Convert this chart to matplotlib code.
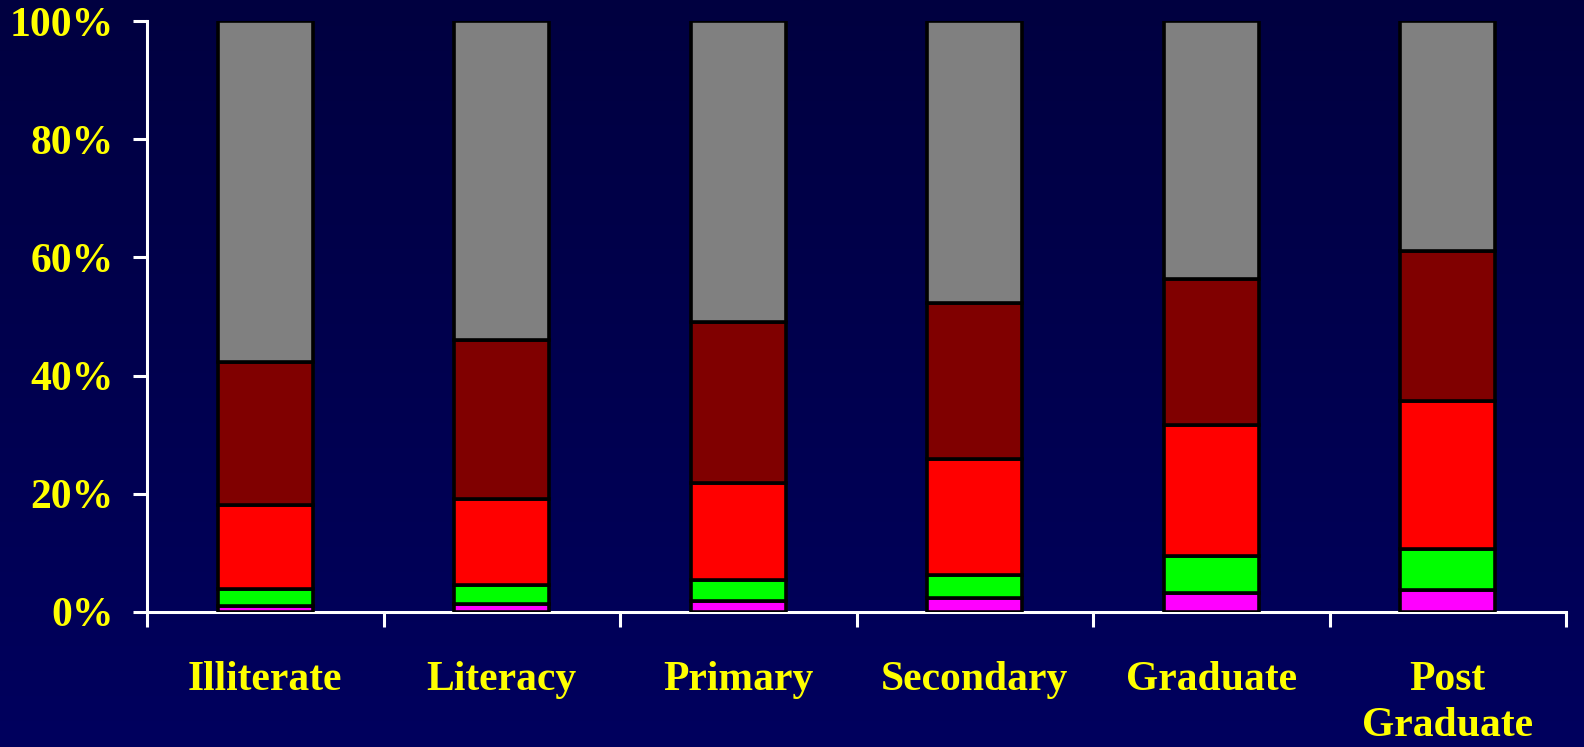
import numpy as np
import matplotlib.pyplot as plt
from matplotlib.colors import LinearSegmentedColormap

categories = ['Illiterate', 'Literacy', 'Primary', 'Secondary', 'Graduate', 'Post\nGraduate']
# segment heights (%), stacked bottom to top
magenta = [1.0, 1.35, 1.9, 2.4, 3.2, 3.7]
green = [2.9, 3.25, 3.5, 3.9, 6.3, 7.0]
red = [14.2, 14.5, 16.4, 19.6, 22.1, 25.0]
darkred = [24.2, 26.9, 27.2, 26.4, 24.7, 25.4]
gray = [100 - (a + b + c + d) for a, b, c, d in zip(magenta, green, red, darkred)]

series = [magenta, green, red, darkred, gray]
colors = ['#ff00ff', '#00ff00', '#ff0000', '#800000', '#808080']

plt.rcParams['font.family'] = ['Liberation Serif', 'DejaVu Serif']
fig = plt.figure(figsize=(15.84, 7.47), dpi=100)

# background gradient
bg = fig.add_axes([0, 0, 1, 1], zorder=-10)
cmap = LinearSegmentedColormap.from_list('bg', ['#000040', '#00005e'])
bg.imshow(np.linspace(0, 1, 256).reshape(-1, 1), aspect='auto', cmap=cmap, extent=[0, 1, 0, 1])
bg.axis('off')

ax = fig.add_axes([147 / 1584, 1 - 612 / 747, (1566 - 147) / 1584, (612 - 21) / 747])
ax.patch.set_alpha(0)

x = np.arange(len(categories))
bottom = np.zeros(len(categories))
for vals, c in zip(series, colors):
    ax.bar(x, vals, 0.4, bottom=bottom, color=c, edgecolor='black', linewidth=2.6, zorder=3)
    bottom += np.array(vals)

ax.set_xlim(-0.5, len(categories) - 0.5)
ax.set_ylim(0, 100)

for s in ['top', 'right']:
    ax.spines[s].set_visible(False)
for s in ['left', 'bottom']:
    ax.spines[s].set_color('white')
    ax.spines[s].set_linewidth(2.2)

ax.set_yticks([0, 20, 40, 60, 80, 100])
ax.set_yticklabels(['0%', '20%', '40%', '60%', '80%', '100%'])
ax.tick_params(axis='y', colors='white', length=10, width=2.2, pad=14,
               labelcolor='yellow', labelsize=30)
for t in ax.get_yticklabels():
    t.set_fontweight('bold')

ax.set_xticks(np.arange(-0.5, len(categories)), [''] * (len(categories) + 1))
ax.tick_params(axis='x', which='major', colors='white', length=11, width=2.2)
ax.set_xticks(x, categories, minor=True)
ax.tick_params(axis='x', which='minor', length=0, pad=35, labelcolor='yellow', labelsize=30)
for t in ax.get_xticklabels(minor=True):
    t.set_fontweight('bold')
    t.set_linespacing(1.3)
    t.set_verticalalignment('top')

fig.savefig('out.png', dpi=100)
